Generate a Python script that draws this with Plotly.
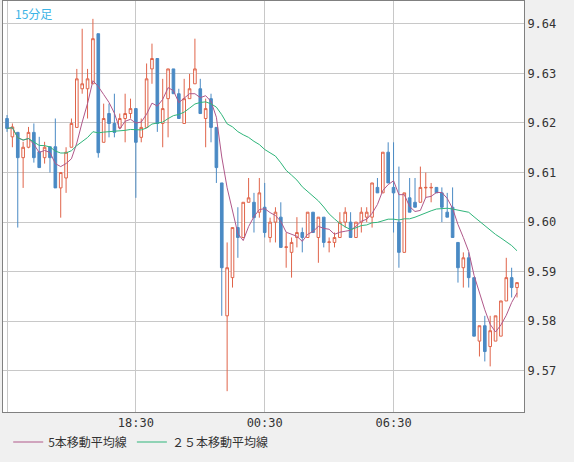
import plotly.graph_objects as go
import pandas as pd

opens = [9.6209,9.6172,9.6181,9.6130,9.6151,9.6181,9.6142,9.6130,9.6152,9.6152,
         9.6069,9.6089,9.6151,9.6191,9.6269,9.6269,9.6279,9.6380,9.6161,9.6219,
         9.6199,9.6190,9.6209,9.6219,9.6229,9.6171,9.6191,9.6309,9.6330,9.6199,
         9.6249,9.6309,9.6259,9.6199,9.6249,9.6279,9.6269,9.6209,9.6249,9.6191,
         9.6079,9.5811,9.5888,9.5989,9.5969,9.6040,9.6040,9.6020,9.6030,9.5969,
         9.6000,9.6010,9.5949,9.5939,9.5969,9.5979,9.5969,9.6020,9.5969,9.6010,
         9.5959,9.5959,9.5969,9.6000,9.6000,9.5969,9.6000,9.6010,9.6010,9.6070,
         9.6059,9.6141,9.6070,9.6000,9.5939,9.6049,9.6040,9.6040,9.6069,9.6069,
         9.6070,9.6059,9.6020,9.6030,9.5959,9.5908,9.5928,9.5888,9.5760,9.5791,
         9.5749,9.5760,9.5770,9.5841,9.5888,9.5868]
highs = [9.6216,9.6199,9.6182,9.6162,9.6192,9.6199,9.6172,9.6162,9.6152,9.6209,
         9.6100,9.6151,9.6209,9.6309,9.6390,9.6309,9.6410,9.6380,9.6239,9.6239,
         9.6259,9.6219,9.6259,9.6249,9.6229,9.6209,9.6320,9.6360,9.6330,9.6289,
         9.6309,9.6309,9.6269,9.6289,9.6299,9.6370,9.6289,9.6249,9.6259,9.6191,
         9.6079,9.5959,9.5989,9.6030,9.6040,9.6089,9.6059,9.6089,9.6079,9.6009,
         9.6030,9.6040,9.5979,9.5969,9.6010,9.5989,9.6020,9.6020,9.6010,9.6010,
         9.5969,9.5979,9.6020,9.6030,9.6020,9.6000,9.6030,9.6030,9.6079,9.6089,
         9.6141,9.6161,9.6161,9.6112,9.6059,9.6089,9.6089,9.6112,9.6100,9.6079,
         9.6070,9.6070,9.6059,9.6070,9.5959,9.5939,9.5939,9.5888,9.5791,9.5811,
         9.5811,9.5811,9.5841,9.5928,9.5908,9.5878]
lows = [9.6182,9.6151,9.5989,9.6069,9.6149,9.6120,9.6110,9.6118,9.6100,9.6069,
        9.6009,9.6059,9.6151,9.6191,9.6259,9.6209,9.6279,9.6130,9.6161,9.6171,
        9.6171,9.6190,9.6161,9.6209,9.6049,9.6161,9.6191,9.6279,9.6182,9.6151,
        9.6171,9.6259,9.6209,9.6199,9.6249,9.6279,9.6219,9.6151,9.6161,9.6079,
        9.5811,9.5659,9.5868,9.5928,9.5969,9.6040,9.5979,9.6009,9.5969,9.5959,
        9.5959,9.5949,9.5908,9.5888,9.5949,9.5939,9.5969,9.5979,9.5918,9.5949,
        9.5939,9.5949,9.5969,9.5989,9.5969,9.5969,9.5979,9.6000,9.5989,9.6059,
        9.6059,9.6079,9.5979,9.5908,9.5939,9.6020,9.6030,9.6040,9.6049,9.6040,
        9.6059,9.6000,9.6010,9.5969,9.5878,9.5868,9.5868,9.5770,9.5729,9.5719,
        9.5709,9.5760,9.5770,9.5841,9.5848,9.5848]
closes = [9.6189,9.6192,9.6130,9.6151,9.6181,9.6130,9.6110,9.6151,9.6130,9.6069,
          9.6100,9.6141,9.6199,9.6289,9.6279,9.6289,9.6370,9.6140,9.6209,9.6199,
          9.6181,9.6209,9.6219,9.6229,9.6161,9.6191,9.6289,9.6330,9.6199,9.6229,
          9.6309,9.6259,9.6209,9.6249,9.6269,9.6309,9.6219,9.6229,9.6191,9.6110,
          9.5908,9.5908,9.5989,9.5969,9.6040,9.6049,9.6009,9.6059,9.5979,9.6000,
          9.6020,9.5949,9.5950,9.5959,9.5979,9.5969,9.6020,9.5979,9.6010,9.5959,
          9.5960,9.5969,9.6000,9.6020,9.5969,9.6000,9.6020,9.6020,9.6079,9.6059,
          9.6141,9.6079,9.6059,9.5939,9.6059,9.6020,9.6030,9.6070,9.6070,9.6070,
          9.6059,9.6030,9.6010,9.5969,9.5908,9.5928,9.5888,9.5770,9.5791,9.5739,
          9.5781,9.5811,9.5841,9.5888,9.5868,9.5878]

tick_pos = [0, 24, 48, 72]
tick_text = ["", "18:30", "00:30", "06:30"]
y_ticks = [9.57, 9.58, 9.59, 9.60, 9.61, 9.62, 9.63, 9.64]

x = list(range(len(closes)))
s = pd.Series(closes)
ma5 = s.rolling(5, min_periods=1).mean()
ma25 = s.rolling(25, min_periods=1).mean()

RED = "#e0644a"
BLUE = "#4a8ac4"

fig = go.Figure()
fig.add_trace(go.Candlestick(
    x=x, open=opens, high=highs, low=lows, close=closes,
    increasing=dict(line=dict(color=RED, width=1), fillcolor="white"),
    decreasing=dict(line=dict(color=BLUE, width=1), fillcolor=BLUE),
    whiskerwidth=0, showlegend=False, hoverinfo="skip"))
fig.add_trace(go.Scatter(x=x, y=ma5, mode="lines", name="5本移動平均線",
                         line=dict(color="#b0588a", width=1)))
fig.add_trace(go.Scatter(x=x, y=ma25, mode="lines", name="２５本移動平均線",
                         line=dict(color="#2fb57a", width=1)))

fig.update_layout(
    width=574, height=462,
    margin=dict(l=3, r=50, t=1, b=50, pad=0, autoexpand=False),
    paper_bgcolor="#f0f0f0", plot_bgcolor="white",
    font=dict(family="DejaVu Sans Mono, Noto Sans CJK JP", size=12, color="#333"),
    showlegend=True,
    legend=dict(orientation="h", x=0.01, y=-0.073, xanchor="left", yanchor="middle",
                bgcolor="rgba(0,0,0,0)",
                font=dict(family="Noto Sans CJK JP", size=12, color="#333")),
    xaxis=dict(range=[-0.75, 96.3], tickmode="array", tickvals=tick_pos,
               ticktext=tick_text, showgrid=True, gridcolor="#c8c8c8",
               rangeslider=dict(visible=False), zeroline=False, ticks="",
               showline=True, linecolor="#808080", mirror=True, automargin=False),
    yaxis=dict(side="right", range=[9.5617, 9.6446], tickvals=y_ticks,
               tickformat=".2f", showgrid=True, gridcolor="#c8c8c8",
               zeroline=False, ticks="", showline=True, linecolor="#808080",
               mirror=True, automargin=False),
    annotations=[dict(text="15分足", xref="paper", yref="paper", x=0.02, y=0.995,
                      xanchor="left", yanchor="top", showarrow=False,
                      font=dict(family="Noto Sans CJK JP", size=12, color="#3cb4e6"))],
)
fig.write_html("out.html", config={"displayModeBar": False},
               post_script="document.body.style.margin='0';document.body.style.overflow='hidden';")
